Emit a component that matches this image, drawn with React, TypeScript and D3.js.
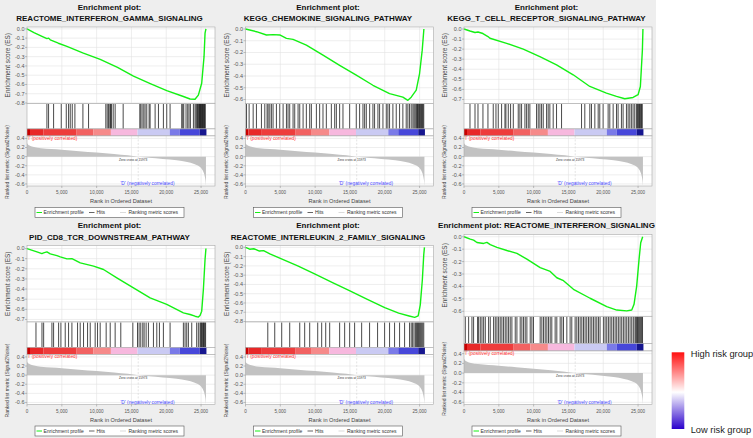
import React from "react";
import * as d3 from "d3";

// panel titles (one or two lines)
const titles = [
  ["Enrichment plot:", "REACTOME_INTERFERON_GAMMA_SIGNALING"],
  ["Enrichment plot:", "KEGG_CHEMOKINE_SIGNALING_PATHWAY"],
  ["Enrichment plot:", "KEGG_T_CELL_RECEPTOR_SIGNALING_PATHWAY"],
  ["Enrichment plot:", "PID_CD8_TCR_DOWNSTREAM_PATHWAY"],
  ["Enrichment plot:", "REACTOME_INTERLEUKIN_2_FAMILY_SIGNALING"],
  ["Enrichment plot: REACTOME_INTERFERON_SIGNALING"],
];

// enrichment score axis limits per panel
const esMin = [-0.805, -0.634, -0.74, -0.725, -0.805, -0.64];
const esMax = [0.02, 0.017, 0.02, 0.03, 0.02, 0.018];

// running enrichment score
const es1Ranks = [0, 1000, 2000, 2860, 3100, 3340, 4500, 5730, 8000, 10510, 13000, 15290, 17700, 20070, 22460, 23420, 24130, 24610, 25090, 25425, 25570, 25700];
const es1Scores = [0, -0.04, -0.075, -0.105, -0.1, -0.118, -0.155, -0.19, -0.26, -0.33, -0.415, -0.51, -0.59, -0.667, -0.73, -0.757, -0.76, -0.715, -0.587, -0.3, -0.047, 0];
const es2Ranks = [0, 1570, 3010, 4000, 4920, 5880, 6830, 8740, 11130, 13520, 15910, 18300, 20690, 22600, 23320, 23800, 24520, 25000, 25380, 25620];
const es2Scores = [0, -0.023, -0.051, -0.048, -0.051, -0.08, -0.088, -0.137, -0.222, -0.31, -0.393, -0.479, -0.55, -0.58, -0.607, -0.58, -0.52, -0.379, -0.18, 0];
const es3Ranks = [0, 860, 1580, 2010, 2720, 3440, 3730, 6120, 8510, 10890, 13290, 15680, 18070, 20460, 21900, 23090, 24280, 25000, 25330, 25620, 25700];
const es3Scores = [0, -0.02, -0.035, -0.03, -0.045, -0.075, -0.092, -0.142, -0.2, -0.274, -0.356, -0.455, -0.571, -0.637, -0.67, -0.693, -0.68, -0.653, -0.571, -0.208, 0];
const es4Ranks = [0, 1430, 2140, 2380, 2860, 3340, 4300, 4780, 5740, 6450, 7650, 9560, 10990, 12900, 15290, 17680, 20070, 22460, 23420, 24130, 24610, 24850, 25090, 25330, 25570, 25700];
const es4Scores = [0, -0.033, -0.05, -0.043, -0.033, -0.053, -0.07, -0.082, -0.102, -0.1, -0.141, -0.174, -0.207, -0.289, -0.388, -0.487, -0.552, -0.635, -0.651, -0.668, -0.677, -0.661, -0.618, -0.404, -0.108, 0];
const es5Ranks = [0, 600, 1200, 2000, 2600, 3500, 5000, 7500, 10000, 12500, 15000, 17500, 20000, 22000, 23500, 24300, 24800, 25100, 25400, 25600, 25700];
const es5Scores = [0, -0.02, -0.015, -0.04, -0.035, -0.07, -0.12, -0.2, -0.29, -0.38, -0.47, -0.56, -0.65, -0.71, -0.74, -0.755, -0.74, -0.62, -0.35, -0.08, 0];
const es6Ranks = [0, 900, 1380, 1860, 2820, 3290, 3770, 4730, 6160, 7600, 9030, 10940, 12380, 13330, 14290, 15720, 18110, 20500, 21940, 23370, 24090, 24420, 24800, 25140, 25380, 25660];
const es6Scores = [0, -0.019, -0.027, -0.046, -0.054, -0.046, -0.064, -0.086, -0.111, -0.134, -0.18, -0.248, -0.279, -0.33, -0.354, -0.423, -0.495, -0.562, -0.59, -0.597, -0.59, -0.544, -0.397, -0.182, -0.048, 0];

// gene set hit positions (rank in ordered dataset)
const hits1 = [2860, 3100, 3820, 4920, 5640, 5970, 6210, 6500, 6880, 8030, 8840, 11320, 11520, 11710, 11900, 11990, 12140, 12380, 12660, 13810, 16200, 16340, 16530, 16770, 16960, 17200, 17540, 17680, 18400, 18880, 19590, 20070, 20550, 22220, 22370, 22510, 22840, 23080, 23270, 23470, 23900, 24130, 24280, 24400, 24500, 24600, 24700, 24780, 24850, 24920, 25000, 25080, 25150, 25220, 25300, 25380, 25450, 25520, 25600];
const hits2 = [150, 520, 1100, 1570, 2290, 2770, 3100, 3250, 3490, 3720, 3960, 4440, 4920, 5400, 5880, 6110, 6350, 6830, 7070, 7550, 7790, 8270, 8740, 9220, 9460, 10180, 10650, 11130, 11610, 12330, 12810, 13050, 13520, 14000, 14960, 15910, 16390, 16870, 17110, 17350, 17830, 18300, 18540, 19020, 19260, 19740, 20220, 20450, 20690, 21170, 21650, 22130, 22600, 23080, 23320, 23560, 23800, 24040, 24200, 24350, 24500, 24600, 24700, 24800, 24900, 25000, 25100, 25200, 25300, 25400, 25500, 25600];
const hits3 = [860, 1580, 2010, 2720, 3440, 4200, 4590, 4920, 5400, 5880, 6020, 6360, 6690, 7080, 7790, 8030, 8270, 8750, 8990, 9230, 9460, 10420, 10660, 10900, 11140, 11380, 11860, 12090, 12330, 12810, 13290, 14010, 16880, 17350, 18070, 18310, 18790, 19270, 19500, 19980, 20700, 20940, 21420, 21900, 22130, 22610, 22850, 23330, 23570, 23810, 24040, 24280, 24520, 24760, 24900, 25000, 25100, 25200, 25300, 25400, 25500, 25600];
const hits4 = [1290, 2150, 2390, 3580, 3820, 4540, 4870, 5490, 5970, 6450, 7260, 7640, 8120, 8700, 9080, 9790, 10130, 10510, 11370, 11950, 12660, 13470, 15200, 15870, 16100, 16340, 16630, 16820, 17110, 17440, 18160, 18640, 19020, 19590, 20550, 22460, 22700, 22940, 23180, 23660, 24370, 24610, 24850, 24950, 25050, 25150, 25250, 25350, 25450, 25550, 25650];
const hits5 = [3200, 4200, 5200, 6350, 7790, 8500, 9220, 10370, 10940, 11520, 12090, 13520, 14240, 14960, 15670, 16680, 17820, 18970, 19980, 20690, 21410, 22130, 22850, 23560, 23800, 24000, 24200, 24400, 24550, 24700, 24850, 25000, 25150, 25300, 25450, 25600];
const hits6 = [185, 665, 1140, 1380, 1950, 2100, 2340, 2580, 2820, 3060, 3530, 3770, 4250, 4490, 4730, 4970, 5200, 5440, 5680, 5920, 6160, 6400, 6640, 6880, 7360, 7600, 8070, 8310, 8550, 8790, 9030, 9510, 9750, 9980, 10940, 11180, 11420, 11660, 11900, 12140, 12380, 12610, 13090, 13330, 13810, 14050, 14290, 14770, 15240, 15480, 15960, 16200, 16440, 16680, 16920, 17160, 17390, 17630, 17880, 18110, 18350, 18590, 18830, 19070, 19310, 19540, 20020, 20260, 20500, 20740, 20980, 21220, 21460, 21700, 21930, 22170, 22410, 22650, 22890, 23130, 23370, 23610, 23850, 24090, 24320, 24560, 24680, 24800, 24920, 25040, 25160, 25280, 25400, 25520, 25640];

// ranked list metric (same list for every panel)
const metricRanks = [0, 100, 400, 1000, 2000, 3500, 5000, 7500, 10000, 12500, 14500, 15973, 17500, 19500, 21500, 23000, 24000, 24700, 25100, 25400, 25550, 25650, 25700];
const metricValues = [0.3, 0.27, 0.24, 0.21, 0.185, 0.165, 0.15, 0.12, 0.09, 0.06, 0.03, 0, -0.025, -0.05, -0.08, -0.12, -0.16, -0.21, -0.27, -0.36, -0.45, -0.55, -0.64];
const zeroCross = 15973;

// colour bar bands under the hits
const bandStarts = [0, 430, 2340, 7130, 9510, 12050, 15870, 20510, 21940, 24810, 25770];
const bandColors = ["#c80000", "#e82828", "#ee3c3c", "#f26262", "#f68a8a", "#f7b8de", "#cacaf3", "#7a7ae8", "#4747da", "#16168f"];

const xTicks = [0, 5000, 10000, 15000, 20000, 25000];
const rankTicks = [0.4, 0.2, 0, -0.2, -0.4, -0.6];

const esRanks = [es1Ranks, es2Ranks, es3Ranks, es4Ranks, es5Ranks, es6Ranks];
const esScores = [es1Scores, es2Scores, es3Scores, es4Scores, es5Scores, es6Scores];
const hitSets = [hits1, hits2, hits3, hits4, hits5, hits6];

const FONT = "'Liberation Sans', Arial, sans-serif";
const GRID = "#e3e3e3";
const FRAME = "#a8a8a8";

function Panel({ idx, ox, oy }: { idx: number; ox: number; oy: number }) {
  const t = titles[idx];
  const top = t.length > 1 ? 27 : 16;
  const bottom = 186;
  const total = bottom - top;
  const esB = top + total * 0.481;
  const hitB = esB + total * 0.16;
  const barB = hitB + total * 0.044;
  const L = 27, R = 215;

  const x = d3.scaleLinear().domain([0, 27000]).range([L, R]);
  const yEs = d3.scaleLinear().domain([esMin[idx], esMax[idx]]).range([esB, top]);
  const yRk = d3.scaleLinear().domain([-0.645, 0.455]).range([bottom, barB]);

  const esTicks = d3.range(0, esMin[idx], -0.1);
  const esPts = esRanks[idx].map((r, i) => [r, esScores[idx][i]] as [number, number]);
  const esLine = d3.line<[number, number]>().x((d) => x(d[0])).y((d) => yEs(d[1]))(esPts) || "";
  const mPts = metricRanks.map((r, i) => [r, metricValues[i]] as [number, number]);
  const mArea =
    d3
      .area<[number, number]>()
      .x((d) => x(d[0]))
      .y0(yRk(0))
      .y1((d) => yRk(d[1]))
      .curve(d3.curveMonotoneX)(mPts) || "";

  const cx = 109.5;
  const fmt = d3.format(",");

  return (
    <g transform={`translate(${ox},${oy})`} fontFamily={FONT}>
      {/* titles */}
      {t.length > 1 ? (
        <>
          <text x={cx} y={9.8} textAnchor="middle" fontSize={8} fontWeight="bold" fill="#111">{t[0]}</text>
          <text x={cx} y={21.1} textAnchor="middle" fontSize={8} fontWeight="bold" fill="#111">{t[1]}</text>
        </>
      ) : (
        <text x={cx} y={9.8} textAnchor="middle" fontSize={8} fontWeight="bold" fill="#111">{t[0]}</text>
      )}

      {/* ES plot */}
      <rect x={L} y={top} width={R - L} height={esB - top} fill="#fff" />
      {xTicks.slice(1).map((v) => (
        <line key={"gx" + v} x1={x(v)} x2={x(v)} y1={top} y2={esB} stroke={GRID} strokeWidth={0.6} />
      ))}
      {esTicks.map((v, i) => (
        <line key={"gy" + i} x1={L} x2={R} y1={yEs(v)} y2={yEs(v)} stroke={GRID} strokeWidth={0.6} />
      ))}
      <path d={esLine} fill="none" stroke="#14f014" strokeWidth={1.4} strokeLinejoin="round" />
      <rect x={L} y={top} width={R - L} height={esB - top} fill="none" stroke={FRAME} strokeWidth={0.6} />
      {esTicks.map((v, i) => (
        <g key={"ty" + i}>
          <line x1={L - 2} x2={L} y1={yEs(v)} y2={yEs(v)} stroke="#888" strokeWidth={0.5} />
          <text x={L - 2.5} y={yEs(v)} dy="0.35em" textAnchor="end" fontSize={5.5} fill="#555">
            {v.toFixed(1)}
          </text>
        </g>
      ))}
      <text
        transform={`translate(8,${(top + esB) / 2}) rotate(-90)`}
        textAnchor="middle"
        dy="0.35em"
        fontSize={6.4}
        fill="#444"
      >
        Enrichment score (ES)
      </text>

      {/* hits */}
      <rect x={L} y={esB} width={R - L} height={hitB - esB} fill="#fff" />
      {hitSets[idx].map((r, i) => (
        <line key={"h" + i} x1={x(r)} x2={x(r)} y1={esB + 0.5} y2={hitB} stroke="#111" strokeWidth={0.9} strokeOpacity={0.85} />
      ))}
      <rect x={L} y={esB} width={R - L} height={hitB - esB} fill="none" stroke={FRAME} strokeWidth={0.6} />

      {/* colour bar */}
      <rect x={L} y={hitB} width={R - L} height={barB - hitB} fill="#fff" />
      {bandColors.map((c, i) => (
        <rect
          key={"b" + i}
          x={x(bandStarts[i])}
          y={hitB}
          width={x(bandStarts[i + 1]) - x(bandStarts[i])}
          height={barB - hitB}
          fill={c}
        />
      ))}
      <rect x={L} y={hitB} width={R - L} height={barB - hitB} fill="none" stroke={FRAME} strokeWidth={0.6} />

      {/* ranked list metric */}
      <rect x={L} y={barB} width={R - L} height={bottom - barB} fill="#fff" />
      {xTicks.slice(1).map((v) => (
        <line key={"rx" + v} x1={x(v)} x2={x(v)} y1={barB} y2={bottom} stroke={GRID} strokeWidth={0.6} />
      ))}
      {rankTicks.map((v, i) => (
        <line key={"ry" + i} x1={L} x2={R} y1={yRk(v)} y2={yRk(v)} stroke={GRID} strokeWidth={0.6} />
      ))}
      <path d={mArea} fill="#c2c2c2" />
      <line x1={x(zeroCross)} x2={x(zeroCross)} y1={barB} y2={bottom} stroke="#d8d8d8" strokeWidth={0.7} strokeDasharray="2,1.5" />
      <text x={L + 0.5} y={barB + 3.8} fontSize={4.8} fill="#ff3030">
        'l' (positively correlated)
      </text>
      <text x={x(zeroCross) - 5} y={yRk(0) + 4.3} textAnchor="middle" fontSize={3.2} fill="#333">
        Zero cross at {zeroCross}
      </text>
      <text x={147.5} y={bottom - 0.8} textAnchor="middle" fontSize={4.8} fill="#4848ff">
        'D' (negatively correlated)
      </text>
      <rect x={L} y={barB} width={R - L} height={bottom - barB} fill="none" stroke={FRAME} strokeWidth={0.6} />
      {rankTicks.map((v, i) => (
        <g key={"tr" + i}>
          <line x1={L - 2} x2={L} y1={yRk(v)} y2={yRk(v)} stroke="#888" strokeWidth={0.5} />
          <text x={L - 2.5} y={yRk(v)} dy="0.35em" textAnchor="end" fontSize={5.5} fill="#555">
            {v.toFixed(1)}
          </text>
        </g>
      ))}
      <text
        transform={`translate(7.5,${(barB + bottom) / 2 + 1}) rotate(-90)`}
        textAnchor="middle"
        dy="0.35em"
        fontSize={5}
        fill="#444"
      >
        Ranked list metric (Signal2Noise)
      </text>

      {/* x axis */}
      {xTicks.map((v) => (
        <g key={"tx" + v}>
          <line x1={x(v)} x2={x(v)} y1={bottom} y2={bottom + 2} stroke="#888" strokeWidth={0.5} />
          <text x={x(v)} y={194.3} textAnchor="middle" fontSize={4.6} fill="#555">
            {fmt(v)}
          </text>
        </g>
      ))}
      <text x={121} y={203.2} textAnchor="middle" fontSize={5.6} fill="#444">
        Rank in Ordered Dataset
      </text>

      {/* legend */}
      <rect x={35} y={207.5} width={149} height={10} fill="#fff" stroke="#555" strokeWidth={0.6} />
      <line x1={36.5} x2={42} y1={212.5} y2={212.5} stroke="#14f014" strokeWidth={1} />
      <text x={43.5} y={214.3} fontSize={5} fill="#333">Enrichment profile</text>
      <line x1={89} x2={94.5} y1={212.5} y2={212.5} stroke="#222" strokeWidth={0.7} />
      <text x={96.5} y={214.3} fontSize={5} fill="#333">Hits</text>
      <line x1={120} x2={126} y1={212.5} y2={212.5} stroke="#ccc" strokeWidth={0.7} />
      <text x={128.5} y={214.3} fontSize={5} fill="#333">Ranking metric scores</text>
    </g>
  );
}

export default function App() {
  const panelW = 218.5;
  const rowH = 218.5;
  return (
    <div style={{ position: "absolute", left: 0, top: 0 }}>
      <svg width={753} height={438} style={{ display: "block" }}>
        <defs>
          <linearGradient id="riskGrad" x1="0" y1="0" x2="0" y2="1">
            <stop offset="0" stopColor="#ff1010" />
            <stop offset="0.52" stopColor="#ffffff" />
            <stop offset="1" stopColor="#2a00cc" />
          </linearGradient>
        </defs>
        <rect x={0} y={0} width={753} height={438} fill="#fff" />
        <rect x={0} y={0} width={656} height={438} fill="#eeeeee" />
        {titles.map((_, i) => (
          <Panel key={i} idx={i} ox={(i % 3) * panelW} oy={Math.floor(i / 3) * rowH} />
        ))}
        <rect x={671.7} y={352.3} width={12.6} height={76.7} fill="url(#riskGrad)" />
        <text x={690.7} y={357} fontSize={9.3} fontFamily={FONT} fill="#222">High risk group</text>
        <text x={690.7} y={433} fontSize={9.3} fontFamily={FONT} fill="#222">Low risk group</text>
      </svg>
    </div>
  );
}
